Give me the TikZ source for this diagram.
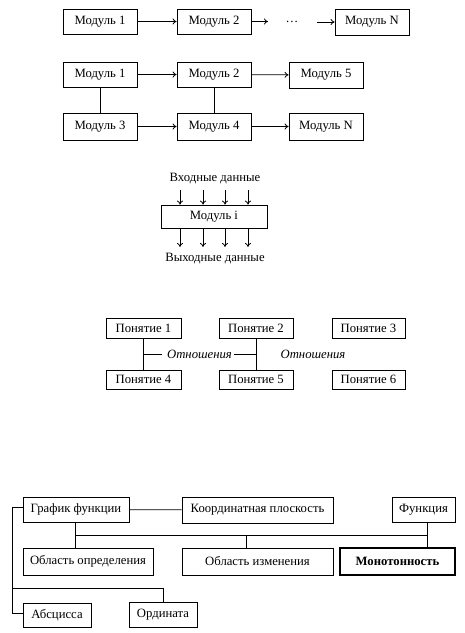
\documentclass[tikz,border=0pt]{standalone}
\usepackage{fontspec}
\setmainfont{Liberation Serif}
\usetikzlibrary{arrows.meta,calc}
\newcommand{\dfont}{\fontsize{12.7}{14}\selectfont}
\begin{document}
\begin{tikzpicture}[x=1pt,y=-1pt,
  box/.style={draw,line width=0.8pt,inner sep=0pt,align=center,font=\dfont},
  lbl/.style={inner sep=0pt,font=\dfont},
  conn/.style={line width=0.8pt},
  arr/.style={line width=0.8pt,-{To[length=4pt,width=6pt]}}]
\useasboundingbox (0,0) rectangle (465,633);
% group 1
\node[box,minimum width=74pt,minimum height=25pt] (m1a) at (100,21.5) {Модуль 1};
\node[box,minimum width=74pt,minimum height=25pt] (m2a) at (214,21.5) {Модуль 2};
\node[box,minimum width=74pt,minimum height=26pt] (mNa) at (372,22) {Модуль N};
\node[lbl] (dots) at (292,22) {\ldots};
\coordinate (ea) at (268,21.5);
\coordinate (sa) at (317,22);
\draw[arr] (m1a) -- (m2a);
\draw[arr] (m2a) -- (ea);
\draw[arr] (sa) -- (mNa);
% group 2
\node[box,minimum width=74pt,minimum height=25pt] (m1b) at (100,74.5) {Модуль 1};
\node[box,minimum width=74pt,minimum height=25pt] (m2b) at (214,74.5) {Модуль 2};
\node[box,minimum width=74pt,minimum height=26pt] (m5b) at (326,75) {Модуль 5};
\node[box,minimum width=74pt,minimum height=27pt] (m3b) at (100,126.5) {Модуль 3};
\node[box,minimum width=74pt,minimum height=27pt] (m4b) at (214,126.5) {Модуль 4};
\node[box,minimum width=74pt,minimum height=27pt] (mNb) at (326,126.5) {Модуль N};
\draw[arr] (m1b) -- (m2b);
\draw[arr] (m2b) -- (m5b);
\draw[arr] (m3b) -- (m4b);
\draw[arr] (m4b) -- (mNb);
\draw[conn] (m1b) -- (m3b);
\draw[conn] (m2b) -- (m4b);
% group 3
\node[box,minimum width=106pt,minimum height=23pt] (mi) at (214,216.5) {Модуль i};
\node[lbl] (inl) at (215,179) {Входные данные};
\node[lbl] (outl) at (215,258.5) {Выходные данные};
\foreach \x/\n in {180/a,203/b,225/c,248/d}{
  \coordinate (in\n) at (\x,190);
  \coordinate (out\n) at (\x,247);
  \draw[arr] (in\n) -- (in\n |- mi.north);
  \draw[arr] (out\n |- mi.south) -- (out\n);
}
% group 4
\node[box,minimum width=75pt,minimum height=20pt] (p1) at (143.5,328) {Понятие 1};
\node[box,minimum width=74pt,minimum height=20pt] (p2) at (256,328) {Понятие 2};
\node[box,minimum width=73pt,minimum height=20pt] (p3) at (368.5,328) {Понятие 3};
\node[box,minimum width=75pt,minimum height=19pt] (p4) at (143.5,379.5) {Понятие 4};
\node[box,minimum width=74pt,minimum height=19pt] (p5) at (256,379.5) {Понятие 5};
\node[box,minimum width=73pt,minimum height=19pt] (p6) at (368.5,379.5) {Понятие 6};
\draw[conn] (p1) -- (p4);
\draw[conn] (p2) -- (p5);
\node[lbl,font=\dfont\itshape] (r1) at (199.5,354) {Отношения};
\node[lbl,font=\dfont\itshape] (r2) at (313,354) {Отношения};
\coordinate (t1) at (162,354);
\coordinate (t2) at (234,354);
\draw[conn] (t1 -| p1) -- (t1);
\draw[conn] (t2) -- (t2 -| p2);
% group 5
\node[box,minimum width=106pt,minimum height=25pt] (gf) at (76,509.5) {График функции};
\node[box,minimum width=151pt,minimum height=26pt] (kp) at (257.5,510) {Координатная плоскость};
\node[box,minimum width=63pt,minimum height=25pt] (fn) at (423.5,509.5) {Функция};
\node[box,minimum width=130pt,minimum height=27pt] (od) at (88,561.5) {Область определения};
\node[box,minimum width=151pt,minimum height=27pt] (oi) at (257.5,561.5) {Область изменения};
\node[box,line width=1.2pt,minimum width=115pt,minimum height=27pt,font=\dfont\bfseries] (mo) at (397.5,561.5) {Монотонность};
\node[box,minimum width=68pt,minimum height=24pt] (ab) at (57,615) {Абсцисса};
\node[box,minimum width=68pt,minimum height=25pt] (or) at (163,614.5) {Ордината};
\draw[conn] (gf) -- (kp);
\coordinate (bl) at (75,535);
\coordinate (br) at (427,535);
\coordinate (bm) at (246,535);
\draw[conn] (bl |- gf.south) -- (bl |- od.north);
\draw[conn] (bl) -- (br);
\draw[conn] (br |- fn.south) -- (br |- mo.north);
\draw[conn] (bm) -- (bm |- oi.north);
\coordinate (lt) at (12,507);
\coordinate (lb) at (12,613);
\coordinate (lm) at (12,588);
\draw[conn] (lt -| gf.west) -- (lt) -- (lb) -- (lb -| ab.west);
\draw[conn] (lm) -- (lm -| or.north) -- (or.north);
\end{tikzpicture}
\end{document}
